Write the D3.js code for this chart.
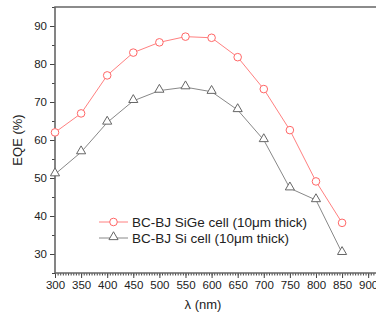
<!DOCTYPE html>
<html>
<head>
<meta charset="utf-8">
<script src="https://cdn.jsdelivr.net/npm/d3@7"></script>
<style>
  body { margin: 0; background: #fff; }
  svg text { font-family: "Liberation Sans", Arial, sans-serif; fill: #222; }
</style>
</head>
<body>
<div id="chart"></div>
<script>
const wavelengths = [300, 350, 400, 450, 500, 550, 600, 650, 700, 750, 800, 850];
const sigeEqe = [62, 67, 77, 83, 85.7, 87.2, 86.9, 81.8, 73.4, 62.6, 49.1, 38.2];
const siEqe = [51, 56.8, 64.6, 70.3, 73, 73.9, 72.7, 67.9, 60, 47.3, 44.2, 30.3];
const xTicks = [300, 350, 400, 450, 500, 550, 600, 650, 700, 750, 800, 850, 900];
const yTicks = [30, 40, 50, 60, 70, 80, 90];
const seriesNames = ['BC-BJ SiGe cell (10\u03bcm thick)', 'BC-BJ Si cell (10\u03bcm thick)'];

const W = 376, H = 321;
const margin = { top: 7, right: 0, bottom: 48, left: 55 };
const width = W - margin.left - margin.right;
const height = H - margin.top - margin.bottom;

const svg = d3.select('#chart').append('svg')
  .attr('width', W)
  .attr('height', H);

const g = svg.append('g')
  .attr('transform', `translate(${margin.left},${margin.top})`);

const x = d3.scaleLinear().domain([300, 915]).range([0, width]);
const y = d3.scaleLinear().domain([25, 95]).range([height, 0]);

// minor ticks
g.append('g')
  .attr('transform', `translate(0,${height})`)
  .call(d3.axisBottom(x).tickValues(d3.range(300, 915, 5)).tickSize(2.5).tickFormat(''))
  .call(a => a.select('.domain').remove())
  .selectAll('line').attr('stroke', '#444');

g.append('g')
  .call(d3.axisLeft(y).tickValues(d3.range(25, 96, 5)).tickSize(3).tickFormat(''))
  .call(a => a.select('.domain').remove())
  .selectAll('line').attr('stroke', '#444');

// major ticks
const xAxis = g.append('g')
  .attr('transform', `translate(0,${height})`)
  .call(d3.axisBottom(x).tickValues(xTicks).tickSize(5).tickPadding(3));
xAxis.select('.domain').remove();
xAxis.selectAll('line').attr('stroke', '#444');
xAxis.selectAll('text').style('font-size', '11.5px');

const yAxis = g.append('g')
  .call(d3.axisLeft(y).tickValues(yTicks).tickSize(5).tickPadding(3));
yAxis.select('.domain').remove();
yAxis.selectAll('line').attr('stroke', '#444');
yAxis.selectAll('text').style('font-size', '11.5px');

// frame
g.append('path')
  .attr('d', `M0,${height}H${width + 5}M0,${height}V0H${width + 5}`)
  .attr('fill', 'none')
  .attr('stroke', '#666')
  .attr('stroke-width', 1.6);

const line = d3.line()
  .x(d => x(d[0]))
  .y(d => y(d[1]));

const sige = wavelengths.map((w, i) => [w, sigeEqe[i]]);
const si = wavelengths.map((w, i) => [w, siEqe[i]]);

const sigeColor = '#ff8080';
const siColor = '#888888';
const tri = d3.symbol().type(d3.symbolTriangle).size(36);

g.append('path').datum(si)
  .attr('fill', 'none').attr('stroke', siColor).attr('stroke-width', 1)
  .attr('d', line);
g.append('path').datum(sige)
  .attr('fill', 'none').attr('stroke', sigeColor).attr('stroke-width', 1)
  .attr('d', line);

g.selectAll('.tri').data(si).enter().append('path')
  .attr('class', 'tri')
  .attr('d', tri)
  .attr('transform', d => `translate(${x(d[0])},${y(d[1]) - 1})`)
  .attr('fill', '#fff').attr('stroke', '#666').attr('stroke-width', 1);

g.selectAll('.dot').data(sige).enter().append('circle')
  .attr('class', 'dot')
  .attr('cx', d => x(d[0]))
  .attr('cy', d => y(d[1]))
  .attr('r', 3.8)
  .attr('fill', '#fff').attr('stroke', '#ff6666').attr('stroke-width', 1);

// legend
const legend = svg.append('g').attr('transform', 'translate(99,222)');
seriesNames.forEach((name, i) => {
  const row = legend.append('g').attr('transform', `translate(0,${i * 16})`);
  row.append('line').attr('x1', 0).attr('x2', 29).attr('y1', 0).attr('y2', 0)
    .attr('stroke', i === 0 ? sigeColor : siColor);
  if (i === 0) {
    row.append('circle').attr('cx', 14.5).attr('cy', 0).attr('r', 3.8)
      .attr('fill', '#fff').attr('stroke', '#ff6666');
  } else {
    row.append('path').attr('d', tri).attr('transform', 'translate(14.5,-1)')
      .attr('fill', '#fff').attr('stroke', '#666');
  }
  row.append('text').attr('x', 33).attr('y', 0).attr('dy', '0.35em')
    .style('font-size', '13.5px').text(name);
});

// axis titles
svg.append('text')
  .attr('transform', `translate(22,${margin.top + height / 2}) rotate(-90)`)
  .attr('text-anchor', 'middle')
  .style('font-size', '13px')
  .text('EQE (%)');

svg.append('text')
  .attr('x', 203).attr('y', 309)
  .attr('text-anchor', 'middle')
  .style('font-size', '13px')
  .text('\u03bb (nm)');
</script>
</body>
</html>
